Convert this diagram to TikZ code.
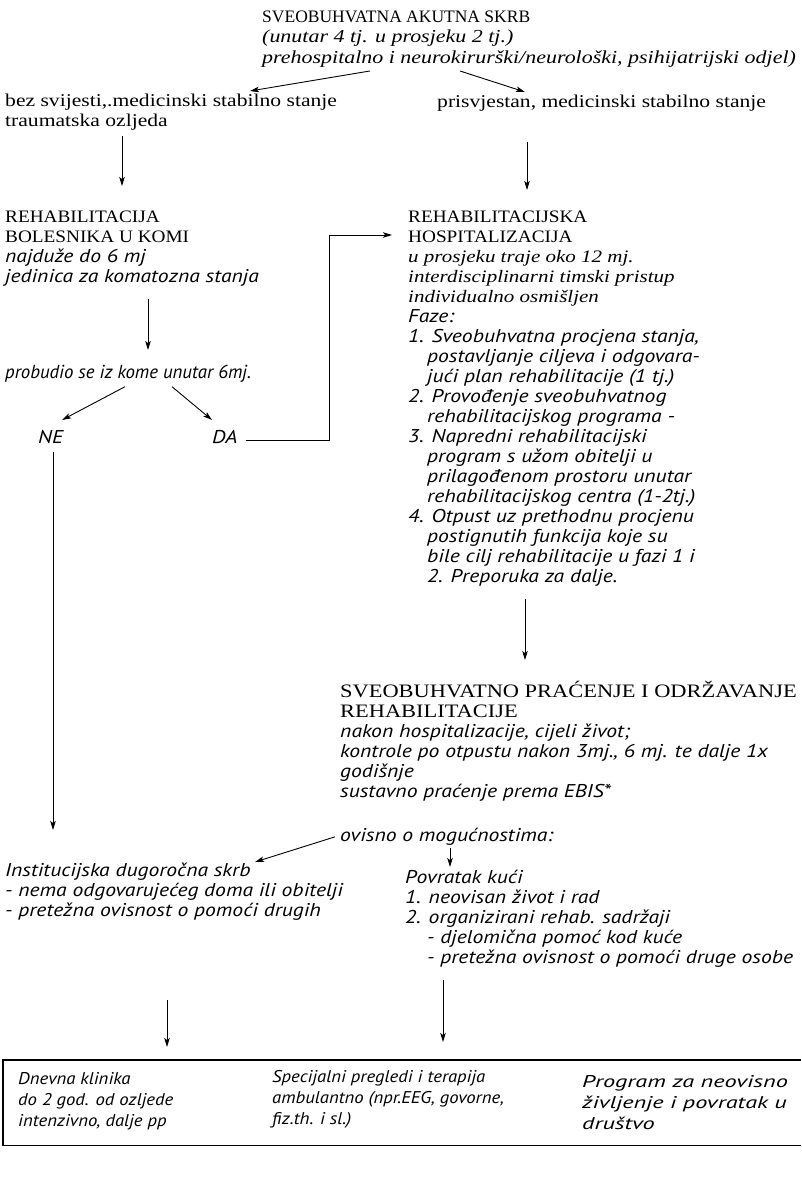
\documentclass[tikz,border=0pt]{standalone}
\usepackage{fontspec}
\setmainfont{Liberation Serif}
\newfontfamily\optf[FakeStretch=1.17]{PT Sans}
\newfontfamily\optn{PT Sans}
\newfontfamily\tmsS[FakeStretch=1.2]{Liberation Serif}
\newfontfamily\capS[FakeStretch=1.1]{Liberation Serif}
\newfontfamily\capP[FakeStretch=1.18]{Liberation Serif}
\newfontfamily\boxf[FakeStretch=1.1]{PT Sans}
\newfontfamily\boxw[FakeStretch=1.43]{PT Sans}
\usetikzlibrary{arrows.meta}
\newcommand\fTitle{\fontsize{17.5}{21}\selectfont}
\newcommand\fTopIt{\tmsS\fontsize{18.3}{21}\selectfont\itshape}
\newcommand\fUp{\tmsS\fontsize{18}{20}\selectfont}
\newcommand\fCap{\capS\fontsize{17.5}{20}\selectfont}
\newcommand\fCapB{\capP\fontsize{19}{20}\selectfont}
\newcommand\fIt{\optf\itshape\fontsize{18.5}{20}\selectfont}
\newcommand\fItN{\optn\itshape\fontsize{18.8}{20}\selectfont}
\newcommand\fTi{\tmsS\fontsize{17.5}{20}\selectfont\itshape}
\newcommand\fBox{\boxf\itshape\fontsize{17}{21}\selectfont}
\newcommand\fBoxW{\boxw\itshape\fontsize{17}{21}\selectfont}
\begin{document}
\begin{tikzpicture}[x=1pt,y=-1pt,
  txt/.style={anchor=north west,inner sep=0pt,align=left},
  arr/.style={-{Stealth[length=9pt,width=5.5pt,inset=2pt]},line width=0.9pt}]
\useasboundingbox[fill=white] (0,0) rectangle (801,1177);

% top
\node[txt,font=\fTitle] (acT) at (262,11) {SVEOBUHVATNA AKUTNA SKRB};
\node[txt,font=\fTopIt] (acS) at (262,30) {(unutar 4 tj. u prosjeku 2 tj.)\\prehospitalno i neurokirurški/neurološki, psihijatrijski odjel)};
\node[txt,font=\fUp] (bez) at (5,94) {bez svijesti,.medicinski stabilno stanje\\traumatska ozljeda};
\node[txt,font=\fUp] (pris) at (437,95) {prisvjestan, medicinski stabilno stanje};

% left column
\node[txt,font=\fCap] (koma) at (5,211) {REHABILITACIJA\\BOLESNIKA U KOMI\\{\fIt najduže do 6 mj}\\{\fIt jedinica za komatozna stanja}};
\node[txt,font=\fItN] (prob) at (5,365) {probudio se iz kome unutar 6mj.};
\node[txt,font=\fIt] (ne) at (38,430) {NE};
\node[txt,font=\fIt] (da) at (212,430) {DA};

% right column
\node[txt,font=\fCap] (hosp) at (408,211) {REHABILITACIJSKA\\HOSPITALIZACIJA\\
{\fTi u prosjeku traje oko 12 mj.}\\
{\fTi interdisciplinarni timski pristup}\\
{\fTi individualno osmišljen}\\
{\fIt Faze:}\\
{\fIt 1. Sveobuhvatna procjena stanja,}\\
{\fIt\hspace*{19pt}postavljanje ciljeva i odgovara-}\\
{\fIt\hspace*{19pt}jući plan rehabilitacije (1 tj.)}\\
{\fIt 2. Provođenje sveobuhvatnog}\\
{\fIt\hspace*{19pt}rehabilitacijskog programa -}\\
{\fIt 3. Napredni rehabilitacijski}\\
{\fIt\hspace*{19pt}program s užom obitelji u}\\
{\fIt\hspace*{19pt}prilagođenom prostoru unutar}\\
{\fIt\hspace*{19pt}rehabilitacijskog centra (1-2tj.)}\\
{\fIt 4. Otpust uz prethodnu procjenu}\\
{\fIt\hspace*{19pt}postignutih funkcija koje su}\\
{\fIt\hspace*{19pt}bile cilj rehabilitacije u fazi 1 i}\\
{\fIt\hspace*{19pt}2. Preporuka za dalje.}};

\node[txt,font=\fCapB] (prac) at (340,681) {SVEOBUHVATNO PRAĆENJE I ODRŽAVANJE\\REHABILITACIJE\\
{\fIt nakon hospitalizacije, cijeli život;}\\
{\fIt kontrole po otpustu nakon 3mj., 6 mj. te dalje 1x}\\
{\fIt godišnje}\\
{\fIt sustavno praćenje prema EBIS*}};

\node[txt,font=\fIt] (ovis) at (340,828) {ovisno o mogućnostima:};
\node[txt,font=\fIt] (inst) at (5,863) {Institucijska dugoročna skrb\\- nema odgovarujećeg doma ili obitelji\\- pretežna ovisnost o pomoći drugih};
\node[txt,font=\fIt] (povr) at (405,870) {Povratak kući\\1. neovisan život i rad\\2. organizirani rehab. sadržaji\\\hspace*{22pt}- djelomična pomoć kod kuće\\\hspace*{22pt}- pretežna ovisnost o pomoći druge osobe};

% bottom box
\node[anchor=north west,inner sep=0pt,minimum width=798pt,minimum height=85pt] (box) at (3,1060) {};
\draw[line width=1.6pt] (box.north east) -- (box.north west) -- (box.south west) -- (box.south east);
\node[txt,font=\fBox] (b1) at (18,1072) {Dnevna klinika\\do 2 god. od ozljede\\intenzivno, dalje pp};
\node[txt,font=\fBox] (b2) at (272,1070) {Specijalni pregledi i terapija\\ambulantno (npr.EEG, govorne,\\fiz.th. i sl.)};
\node[txt,font=\fBoxW] (b3) at (582,1075) {Program za neovisno\\življenje i povratak u\\društvo};

% connectors
\draw[arr] ([xshift=108pt,yshift=-3pt]acS.south west) -- ([xshift=245pt,yshift=3pt]bez.north west);
\draw[arr] ([xshift=198pt,yshift=-3pt]acS.south west) -- ([xshift=88pt,yshift=3pt]pris.north west);
\draw[arr] ([xshift=117pt,yshift=-5pt]bez.south west) -- ([xshift=117pt,yshift=25pt]koma.north west);
\draw[arr] ([xshift=90pt,yshift=-30pt]pris.south west) -- ([xshift=119pt,yshift=21pt]hosp.north west);
\draw[arr] ([xshift=143pt,yshift=-12pt]koma.south west) -- ([xshift=143pt,yshift=15pt]prob.north west);
\draw[arr] ([xshift=120pt,yshift=-4pt]prob.south west) -- ([xshift=24pt,yshift=10pt]ne.north west);
\draw[arr] ([xshift=167pt,yshift=-4pt]prob.south west) -- ([xshift=0pt,yshift=10pt]da.north west);
\draw[arr] ([xshift=8pt,yshift=-4pt]da.east) -- ++(84pt,0pt) |- ([xshift=-16pt,yshift=-24pt]hosp.north west);
\draw[arr] ([xshift=15pt,yshift=-8pt]ne.south west) -- ([xshift=48pt,yshift=33pt]inst.north west);
\draw[arr] ([xshift=117pt,yshift=-12pt]hosp.south west) -- ([xshift=185pt,yshift=21pt]prac.north west);
\draw[arr] ([xshift=-5pt]ovis.west) -- ([xshift=250pt,yshift=1pt]inst.north west);
\draw[arr] ([xshift=110pt,yshift=-2pt]ovis.south west) -- ([xshift=45pt,yshift=3pt]povr.north west);
\draw[arr] ([xshift=162pt,yshift=-79pt]inst.south west) -- ([xshift=164pt,yshift=13pt]box.north west);
\draw[arr] ([xshift=38pt,yshift=-12pt]povr.south west) -- ([xshift=440pt,yshift=18pt]box.north west);
\end{tikzpicture}
\end{document}
